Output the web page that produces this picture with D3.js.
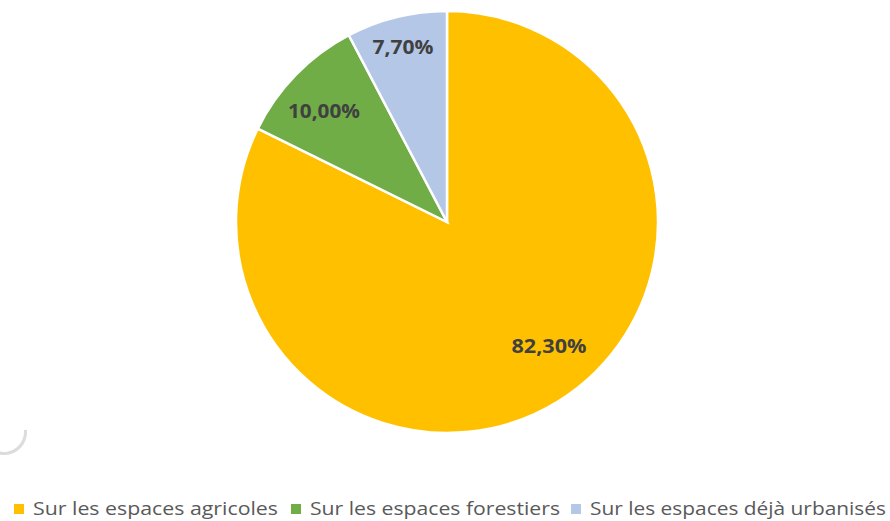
<!DOCTYPE html>
<html>
<head>
<meta charset="utf-8">
<script src="https://cdn.jsdelivr.net/npm/d3@7"></script>
<style>
  body { margin: 0; background: #fff; }
  text { font-family: "Open Sans", Lato, sans-serif; }
</style>
</head>
<body>
<div id="chart"></div>
<script>
// data
var categories = ["Sur les espaces agricoles", "Sur les espaces forestiers", "Sur les espaces déjà urbanisés"]
var values = [82.3, 10.0, 7.7]
var labels = ["82,30%", "10,00%", "7,70%"]
var colors = ["#FFC000", "#70AD47", "#B4C7E7"]

var width = 890
var height = 521
var cx = 447, cy = 222, radius = 211

var svg = d3.select('#chart').append('svg')
  .attr('width', width)
  .attr('height', height)

var pie = d3.pie().sort(null).value(function(d) { return d; })
var arcs = pie(values)

var arc = d3.arc().innerRadius(0).outerRadius(radius)

var g = svg.append('g').attr('transform', 'translate(' + cx + ',' + cy + ')')

g.selectAll('path.slice')
  .data(arcs)
  .enter().append('path')
  .attr('class', 'slice')
  .attr('d', arc)
  .style('fill', function(d, i) { return colors[i]; })
  .style('stroke', '#fff')
  .style('stroke-width', 2.5)

// label spots and widths, matched to the excel output
var labelPos = [[102, 124], [-123, -111], [-44, -175]]
var labelW = [75, 72, 61]
g.selectAll('text.lbl')
  .data(arcs)
  .enter().append('text')
  .attr('class', 'lbl')
  .attr('x', function(d, i) { return labelPos[i][0]; })
  .attr('y', function(d, i) { return labelPos[i][1]; })
  .attr('text-anchor', 'middle')
  .attr('dy', '0.35em')
  .attr('textLength', function(d, i) { return labelW[i]; })
  .attr('lengthAdjust', 'spacingAndGlyphs')
  .style('font-size', '20px')
  .style('font-weight', 'bold')
  .style('fill', '#404040')
  .text(function(d, i) { return labels[i]; })

// legend (nudged up a touch so the descenders stay on the page)
var legendX = [14, 291, 571]
var legendW = [245, 250, 296]
var legend = svg.append('g').attr('transform', 'translate(0,508)')
var item = legend.selectAll('g')
  .data(categories)
  .enter().append('g')
  .attr('transform', function(d, i) { return 'translate(' + legendX[i] + ',0)'; })

item.append('rect')
  .attr('x', 0).attr('y', -4)
  .attr('width', 10).attr('height', 10)
  .style('fill', function(d, i) { return colors[i]; })

item.append('text')
  .attr('x', 19)
  .attr('dy', '0.35em')
  .attr('textLength', function(d, i) { return legendW[i]; })
  .attr('lengthAdjust', 'spacingAndGlyphs')
  .style('font-size', '19px')
  .style('fill', '#595959')
  .text(function(d) { return d; })

// faint leftover arc in the bottom-left corner
svg.append('path')
  .attr('d', d3.arc()({innerRadius: 20, outerRadius: 23, startAngle: Math.PI * 0.47, endAngle: Math.PI * 1.1}))
  .attr('transform', 'translate(4,432)')
  .style('fill', '#dcdcdc')
</script>
</body>
</html>
